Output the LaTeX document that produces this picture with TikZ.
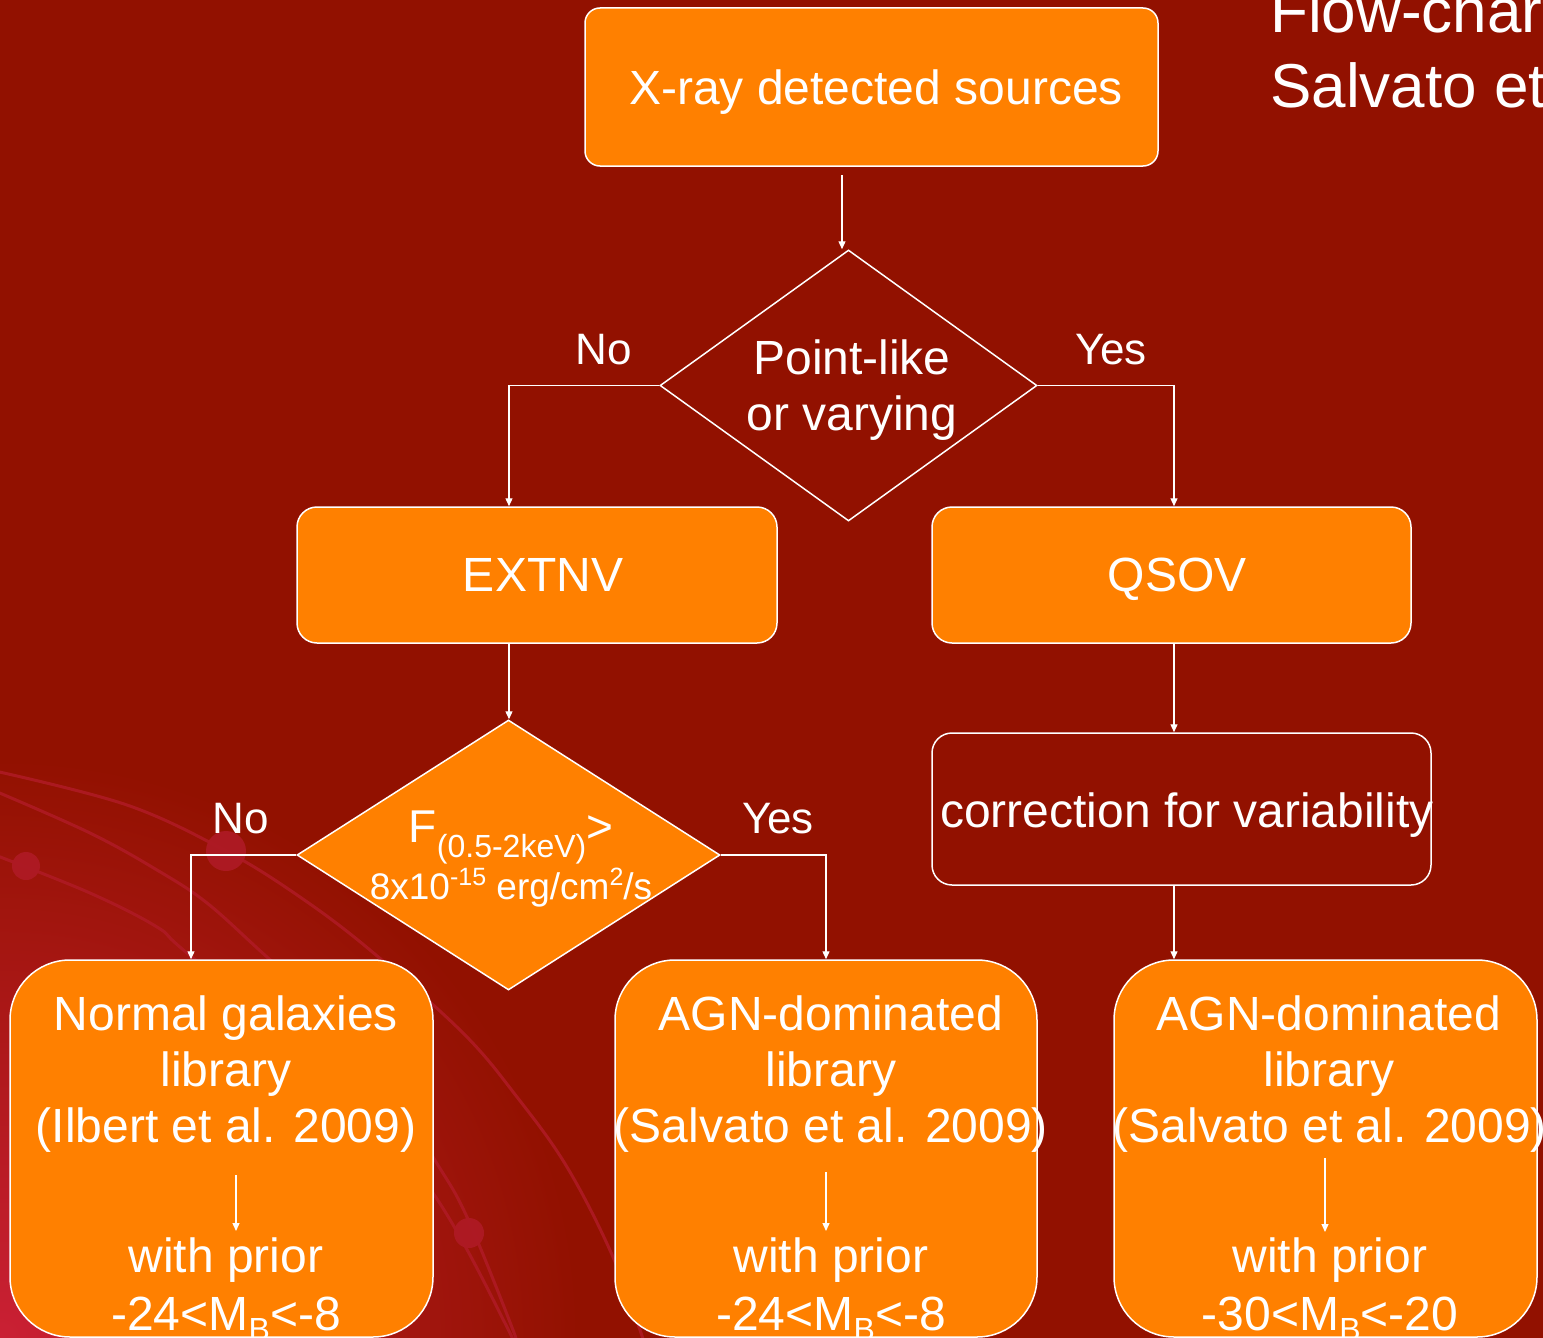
\documentclass[tikz,border=0pt]{standalone}
\usepackage{fontspec}
\setmainfont{Liberation Sans}
\usetikzlibrary{shapes.geometric,arrows.meta}
\definecolor{bgred}{HTML}{921100}
\definecolor{orng}{HTML}{FF8000}
\definecolor{deco}{HTML}{AE1A24}
\definecolor{glow}{HTML}{CA2034}
\newcommand\subB{\raisebox{-10pt}{\fontsize{32}{36}\selectfont B}}
\begin{document}
\begin{tikzpicture}[x=1pt,y=-1pt,
  obox/.style={rectangle,draw=white,line width=1.5pt,fill=orng,inner sep=0pt,rounded corners=#1},
  hbox/.style={rectangle,draw=white,line width=1.5pt,inner sep=0pt,rounded corners=#1},
  dia/.style={diamond,draw=white,line width=1.5pt,inner sep=0pt},
  txt/.style={text=white,inner sep=0pt,anchor=base,font=\fontsize{48}{56}\selectfont},
  lbl/.style={text=white,inner sep=0pt,anchor=base,font=\fontsize{44}{52}\selectfont},
  arr/.style={draw=white,line width=1.3pt,-{Triangle[length=8pt,width=7pt]}},
  decoline/.style={draw=deco,line width=3pt,opacity=0.9},
  dot/.style={fill=deco,opacity=0.95}]
\useasboundingbox (0,0) rectangle (1543,1338);
\clip (0,0) rectangle (1543,1338);
% background
\fill[bgred] (0,0) rectangle (1543,1338);
\shade[inner color=glow,outer color=bgred] (0,1338) circle (580);
\draw[decoline] plot[smooth,tension=0.6] coordinates {(-5,771) (127,805) (226,851) (300,897) (370,950) (463,1033) (517,1097) (567,1167) (613,1257) (645,1345)};
\draw[decoline] plot[smooth,tension=0.6] coordinates {(-5,791) (90,833) (157,870) (207,903) (267,957) (360,1040) (433,1157) (467,1217) (513,1330) (516,1345)};
\draw[decoline] plot[smooth,tension=0.6] coordinates {(-5,855) (90,893) (157,927) (187,953) (330,1070) (433,1193) (507,1327) (512,1345)};
\fill[dot] (26,866) circle (14);
\fill[dot] (226,851) circle (20);
\fill[dot] (469,1233) circle (15);
% title
\node[text=white,inner sep=0pt,anchor=base west,font=\fontsize{62}{74}\selectfont] (ti1) at (1270,33) {Flow-chart from};
\node[text=white,inner sep=0pt,anchor=base west,font=\fontsize{62}{74}\selectfont] (ti2) at (1270,107) {Salvato et al. 2009};
% shapes
\node[obox=15,minimum width=573,minimum height=158] (top) at (871.5,87) {};
\node[dia,minimum width=377,minimum height=271] (d1) at (848.5,385.5) {};
\node[obox=20,minimum width=480,minimum height=136] (extnv) at (537,575) {};
\node[obox=20,minimum width=479,minimum height=136] (qsov) at (1171.5,575) {};
\node[dia,fill=orng,minimum width=423,minimum height=270] (d2) at (508.5,855) {};
\node[hbox=20,minimum width=499,minimum height=152] (corr) at (1181.5,809) {};
\node[obox=60,minimum width=423,minimum height=377] (b1) at (221.5,1148.5) {};
\node[obox=60,minimum width=422,minimum height=377] (b2) at (826,1148.5) {};
\node[obox=60,minimum width=423,minimum height=377] (b3) at (1325.5,1148.5) {};
% texts
\node[txt] (t0) at (876,104) {X-ray detected sources};
\node[txt] (d1a) at (852,374) {Point-like};
\node[txt] (d1b) at (852,430) {or varying};
\node[txt] (t1) at (543,591) {EXTNV};
\node[txt] (t2) at (1177,591) {QSOV};
\node[txt] (t3) at (1187,827) {correction for variability};
\node[text=white,inner sep=0pt,anchor=base,font=\fontsize{46}{52}\selectfont] (d2a) at (511,842)
  {F\raisebox{-15pt}{\fontsize{32}{36}\selectfont (0.5-2keV)}>};
\node[text=white,inner sep=0pt,anchor=base,font=\fontsize{37}{44}\selectfont] (d2b) at (511,899)
  {8x10\raisebox{14pt}{\fontsize{25}{28}\selectfont -15} erg/cm\raisebox{14pt}{\fontsize{25}{28}\selectfont 2}/s};
\node[lbl] (no1) at (604,364) {No};
\node[lbl] (yes1) at (1111,364) {Yes};
\node[lbl] (no2) at (241,833) {No};
\node[lbl] (yes2) at (778,833) {Yes};
% bottom left
\node[txt] (b1a) at (226,1030) {Normal galaxies};
\node[txt] (b1b) at (226,1086) {library};
\node[txt] (b1c) at (226,1142) {(Ilbert et al. 2009)};
\node[txt] (b1d) at (226,1272) {with prior};
\node[txt] (b1e) at (226,1330) {-24<M\subB<-8};
% bottom middle
\node[txt] (b2a) at (831,1030) {AGN-dominated};
\node[txt] (b2b) at (831,1086) {library};
\node[txt] (b2c) at (831,1142) {(Salvato et al. 2009)};
\node[txt] (b2d) at (831,1272) {with prior};
\node[txt] (b2e) at (831,1330) {-24<M\subB<-8};
% bottom right
\node[txt] (b3a) at (1329,1030) {AGN-dominated};
\node[txt] (b3b) at (1329,1086) {library};
\node[txt] (b3c) at (1330,1142) {(Salvato et al. 2009)};
\node[txt] (b3d) at (1330,1272) {with prior};
\node[txt] (b3e) at (1330,1330) {-30<M\subB<-20};
% inner arrows
\coordinate (ia1) at (236,1175); \coordinate (ib1) at (236,1231);
\coordinate (ia2) at (826,1172); \coordinate (ib2) at (826,1231);
\coordinate (ia3) at (1325,1158); \coordinate (ib3) at (1325,1232);
\draw[arr] (ia1) -- (ib1);
\draw[arr] (ia2) -- (ib2);
\draw[arr] (ia3) -- (ib3);
% connectors
\coordinate (a0) at (842,175);
\draw[arr] (a0) -- (a0 |- d1.north);
\draw[arr] (d1.west) -| ([xshift=-28]extnv.north);
\draw[arr] (d1.east) -| ([xshift=2.5]qsov.north);
\draw[arr] ([xshift=-28]extnv.south) -- ([xshift=-28]extnv.south |- d2.north);
\draw[arr] ([xshift=2.5]qsov.south) -- ([xshift=2.5]qsov.south |- corr.north);
\draw[arr] ([xshift=-7.5]corr.south) -- ([xshift=-7.5]corr.south |- b3.north);
\draw[arr] (d2.west) -| ([xshift=-30.5]b1.north);
\draw[arr] (d2.east) -| (b2.north);
\end{tikzpicture}
\end{document}
